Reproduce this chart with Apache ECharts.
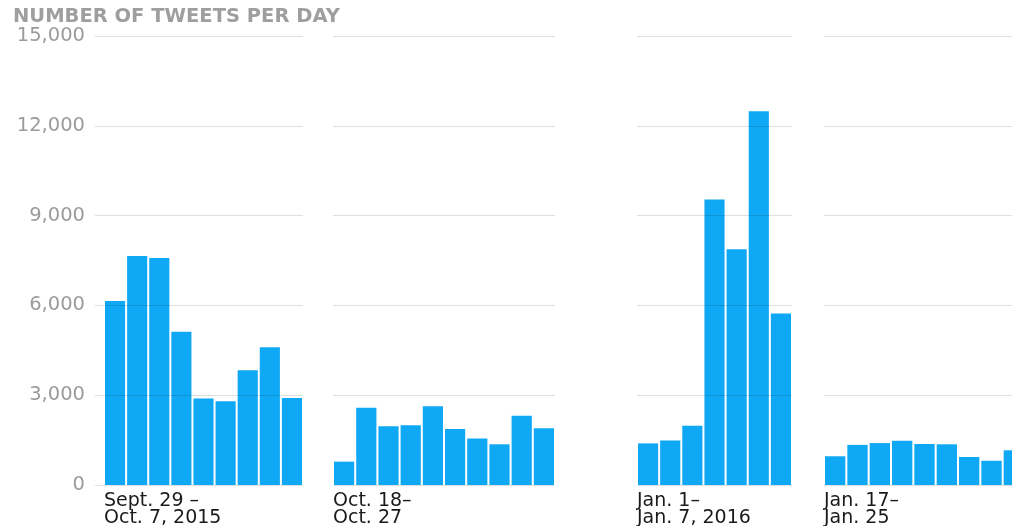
<!DOCTYPE html>
<html>
<head>
<meta charset="utf-8">
<script src="https://cdn.jsdelivr.net/npm/echarts@6/dist/echarts.min.js"></script>
<style>
  html, body { margin: 0; padding: 0; background: #fff; }
  #chart { width: 1012px; height: 526px; }
</style>
</head>
<body>
<div id="chart"></div>
<script>
// tweets per day, four separate periods
var chartTitle = 'NUMBER OF TWEETS PER DAY';
var panelLabels = ['Sept. 29 –\nOct. 7, 2015', 'Oct. 18–\nOct. 27', 'Jan. 1–\nJan. 7, 2016', 'Jan. 17–\nJan. 25'];

var days1 = ['Sep 29', 'Sep 30', 'Oct 1', 'Oct 2', 'Oct 3', 'Oct 4', 'Oct 5', 'Oct 6', 'Oct 7'];
var days2 = ['Oct 18', 'Oct 19', 'Oct 20', 'Oct 21', 'Oct 22', 'Oct 23', 'Oct 24', 'Oct 25', 'Oct 26', 'Oct 27'];
var days3 = ['Jan 1', 'Jan 2', 'Jan 3', 'Jan 4', 'Jan 5', 'Jan 6', 'Jan 7'];
var days4 = ['Jan 17', 'Jan 18', 'Jan 19', 'Jan 20', 'Jan 21', 'Jan 22', 'Jan 23', 'Jan 24', 'Jan 25'];

var tweets1 = [6150, 7650, 7580, 5120, 2890, 2800, 3830, 4600, 2910];
var tweets2 = [780, 2580, 1960, 2000, 2630, 1870, 1550, 1360, 2310, 1900];
var tweets3 = [1390, 1490, 1980, 9540, 7880, 12490, 5730];
var tweets4 = [960, 1340, 1400, 1480, 1370, 1360, 935, 810, 1160];

var yMin = 0, yMax = 15000, yStep = 3000;

var days = [days1, days2, days3, days4];
var tweets = [tweets1, tweets2, tweets3, tweets4];

// panel placement (px); last panel runs past the right edge
var panelLeft = [104, 333, 637, 824];
var panelWidth = [199, 222, 155, 201];

var chart = echarts.init(document.getElementById('chart'));

var grids = [], xAxes = [], yAxes = [], series = [];
var titles = [{
  text: chartTitle,
  left: 8,
  top: 2,
  textStyle: { fontFamily: 'DejaVu Sans', fontSize: 19.5, fontWeight: 'bold', color: '#9e9e9e' }
}];

for (var i = 0; i < 4; i++) {
  grids.push({ left: panelLeft[i], width: panelWidth[i], top: 36, height: 449, outerBoundsMode: 'none' });
  xAxes.push({
    type: 'category',
    gridIndex: i,
    data: days[i],
    axisLine: { show: false },
    axisTick: { show: false },
    axisLabel: { show: false }
  });
  yAxes.push({
    type: 'value',
    gridIndex: i,
    min: yMin,
    max: yMax,
    interval: yStep,
    z: 5,
    axisLine: { show: false },
    axisTick: { show: i === 0, length: 9, lineStyle: { color: 'rgba(0,0,0,0.12)' } },
    axisLabel: {
      show: i === 0,
      margin: 19,
      color: '#9b9b9b',
      fontFamily: 'DejaVu Sans',
      fontSize: 19.5,
      formatter: function (v) { return v.toLocaleString('en-US'); }
    },
    splitLine: { lineStyle: { color: 'rgba(0,0,0,0.12)', width: 1 } }
  });
  series.push({
    type: 'bar',
    xAxisIndex: i,
    yAxisIndex: i,
    data: tweets[i],
    barCategoryGap: '9%',
    itemStyle: { color: '#0fa8f4' }
  });
  titles.push({
    text: panelLabels[i],
    left: panelLeft[i] - 5,
    top: 487,
    textStyle: { fontFamily: 'DejaVu Sans', fontSize: 19, lineHeight: 17.5, fontWeight: 'normal', color: '#1a1a1a' }
  });
}

chart.setOption({
  animation: false,
  title: titles,
  grid: grids,
  xAxis: xAxes,
  yAxis: yAxes,
  series: series
});
</script>
</body>
</html>
